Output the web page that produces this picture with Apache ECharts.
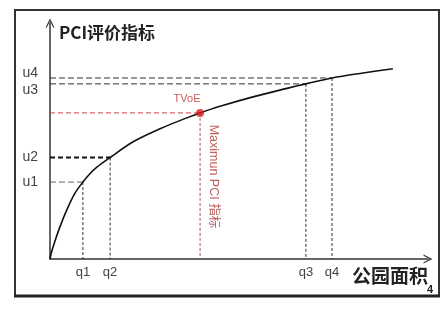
<!DOCTYPE html>
<html><head><meta charset="utf-8">
<script src="https://cdn.jsdelivr.net/npm/echarts@6/dist/echarts.min.js"></script>
<style>html,body{margin:0;padding:0;background:#fff}#c{width:445px;height:317px}</style>
</head><body><div id="c"></div>
<script>
// Curve (x: park area, y: PCI index)
const curveX = [0, 0.4, 1.3, 2.6, 4.5, 6.5, 8.7, 10.5, 12.4, 15.9, 22.0, 29.1, 36.2, 39.7, 45.0, 53.7, 62.7, 67.7, 74.6, 82.8, 90.7];
const curveY = [0, 3.0, 7.5, 13.5, 21.0, 27.6, 32.6, 36.0, 38.9, 43.0, 49.7, 55.2, 59.8, 61.9, 64.7, 68.7, 72.3, 74.2, 76.7, 78.8, 80.6];
// Guide points
const qLabels = ['q1', 'q2', 'q3', 'q4'];
const qVals = [8.7, 15.9, 67.7, 74.6];
const uLabels = ['u1', 'u2', 'u3', 'u4'];
const uVals = [32.6, 43.0, 74.2, 76.7];
const tvoe = [39.7, 61.9];
const tvoeLabel = 'TVoE';
const maxLabel = 'Maximun PCI 指标';
const yName = 'PCI评价指标';
const xName = '公园面积';

const curve = curveX.map((x, i) => [x, curveY[i]]);
const guideSeries = [];
qVals.forEach((q, i) => {
  const u = uVals[i];
  const bold = i === 1;
  guideSeries.push({
    type: 'line', data: [[0, u], [q, u]], showSymbol: false, silent: true, z: 1,
    lineStyle: { color: bold ? '#111' : (i === 0 ? '#666' : '#333'), width: bold ? 2 : 1, type: bold ? [5, 3] : [6, 3] }
  });
  guideSeries.push({
    type: 'line', data: [[q, u], [q, 0]], showSymbol: false, silent: true, z: 1,
    lineStyle: { color: '#333', width: 1, type: [3, 2] }
  });
});

const chart = echarts.init(document.getElementById('c'), null, { renderer: 'canvas' });
const arrow = 'path://M0,10 L5,0 L10,10 L8.6,10 L5,3 L1.4,10 Z';
chart.setOption({
  backgroundColor: '#fff',
  animation: false,
  grid: { left: 50, top: 23, right: 17, bottom: 58 },
  xAxis: {
    type: 'value', min: 0, max: 100,
    name: xName, nameLocation: 'end', nameGap: 0,
    nameTextStyle: { fontFamily: 'Noto Sans CJK SC', fontSize: 19, fontWeight: 'bold', color: '#222', align: 'right', verticalAlign: 'top', padding: [7, 0, 0, 0] },
    axisLine: { lineStyle: { color: '#333', width: 1.5 }, symbol: ['none', arrow], symbolSize: [11, 9] },
    axisTick: { show: false },
    splitLine: { show: false },
    axisLabel: {
      customValues: qVals,
      formatter: v => qLabels[qVals.indexOf(v)] || '',
      fontFamily: 'Liberation Sans', fontSize: 13, color: '#444', margin: 7
    }
  },
  yAxis: {
    type: 'value', min: 0, max: 100,
    name: yName, nameLocation: 'end', nameGap: -10,
    nameTextStyle: { fontFamily: 'Noto Sans CJK SC', fontSize: 17, fontWeight: 'bold', color: '#222', align: 'left', verticalAlign: 'middle', padding: [0, 0, 0, 9] },
    axisLine: { lineStyle: { color: '#333', width: 1.5 }, symbol: ['none', arrow], symbolSize: [9, 9] },
    axisTick: { show: false },
    splitLine: { show: false },
    axisLabel: {
      customValues: uVals,
      formatter: v => {
        const i = uVals.indexOf(v);
        if (i === 3) return '{up|' + uLabels[i] + '}';
        if (i === 2) return '{dn|' + uLabels[i] + '}';
        return uLabels[i] || '';
      },
      rich: {
        up: { fontFamily: 'Liberation Sans', fontSize: 14, color: '#444', padding: [0, 0, 10, 0] },
        dn: { fontFamily: 'Liberation Sans', fontSize: 14, color: '#444', padding: [12, 0, 0, 0] }
      },
      fontFamily: 'Liberation Sans', fontSize: 14, color: '#444', margin: 12
    }
  },
  series: [
    ...guideSeries,
    {
      type: 'line', data: [[0, tvoe[1]], tvoe], showSymbol: false, silent: true, z: 1,
      lineStyle: { color: '#d04040', width: 1, type: [5, 3] }
    },
    {
      type: 'line', data: [tvoe, [tvoe[0], 0]], showSymbol: false, silent: true, z: 1,
      lineStyle: { color: '#c04848', width: 1, type: [3, 2] }
    },
    {
      type: 'line', data: curve, smooth: 0.35, showSymbol: false, z: 3,
      lineStyle: { color: '#111', width: 1.6 }
    },
    {
      type: 'scatter', data: [tvoe], symbolSize: 8, z: 4,
      itemStyle: { color: '#d41e1e' },
      label: { show: true, formatter: tvoeLabel, position: 'top', offset: [-13, 1], fontFamily: 'Liberation Sans', fontSize: 11, color: '#c03030' }
    },
    {
      type: 'scatter', data: [[tvoe[0], 35]], symbolSize: 0, z: 4,
      label: { show: true, formatter: maxLabel, position: 'inside', rotate: -90, offset: [0, -13], fontFamily: 'Liberation Sans, Noto Sans CJK SC', fontSize: 12.5, color: '#b03535' }
    }
  ],
  graphic: [
    { type: 'rect', shape: { x: 15, y: 10, width: 424, height: 286 }, style: { fill: 'none', stroke: '#333', lineWidth: 2 }, z: 10, silent: true },
    { type: 'line', shape: { x1: 14, y1: 296, x2: 440, y2: 296 }, style: { stroke: '#222', lineWidth: 3 }, z: 10, silent: true },
    { type: 'text', left: 427, top: 284, style: { text: '4', font: 'bold 11px Liberation Sans', fill: '#222' }, z: 11, silent: true }
  ]
});
</script></body></html>
